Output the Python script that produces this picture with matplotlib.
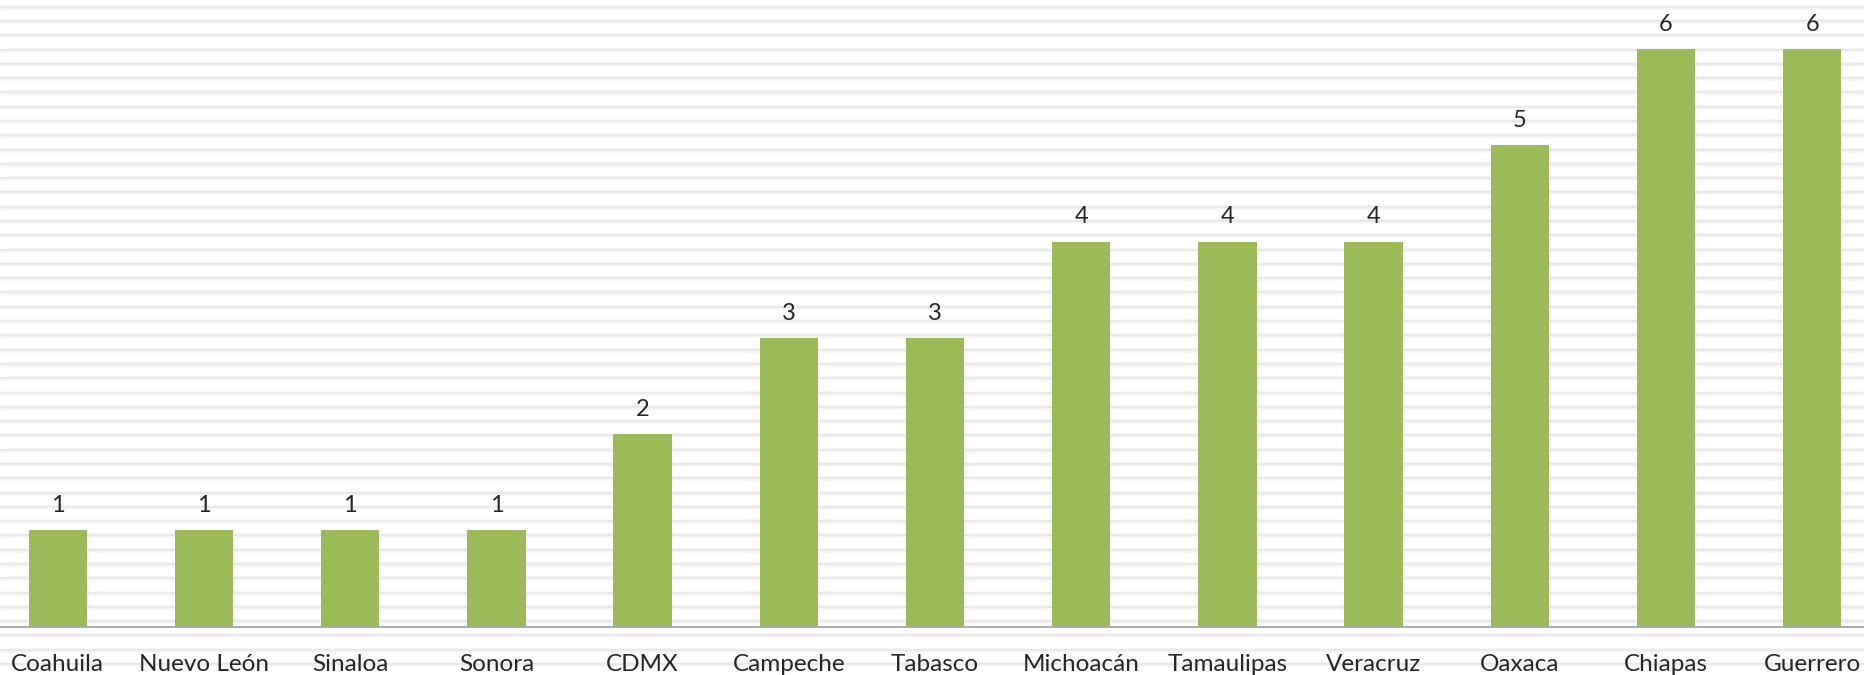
import matplotlib
matplotlib.use("Agg")
import matplotlib.pyplot as plt
from matplotlib.lines import Line2D

categories = ["Coahuila", "Nuevo León", "Sinaloa", "Sonora", "CDMX", "Campeche",
              "Tabasco", "Michoacán", "Tamaulipas", "Veracruz", "Oaxaca", "Chiapas", "Guerrero"]
values = [1, 1, 1, 1, 2, 3, 3, 4, 4, 4, 5, 6, 6]

W, H = 1864, 675
plt.rcParams['font.family'] = ['Lato', 'DejaVu Sans']
fig = plt.figure(figsize=(W / 100, H / 100), dpi=100)
fig.patch.set_facecolor('white')

# striped background (decorative texture)
y0, step = 6.7, 14.29
k = 0
while y0 + step * k < H + 5:
    yy = 1 - (y0 + step * k) / H
    fig.add_artist(Line2D([0, 1], [yy, yy], transform=fig.transFigure,
                          color='#f5f5f5', lw=3.4, zorder=-3, solid_capstyle='butt'))
    fig.add_artist(Line2D([0, 1], [yy, yy], transform=fig.transFigure,
                          color='#e6e6e6', lw=1.1, zorder=-2, solid_capstyle='butt'))
    k += 1

base_px = 626.7
unit_px = 96.3
ax = fig.add_axes([0, (H - base_px) / H, 1, base_px / H])
ax.set_facecolor('none')
x = list(range(len(categories)))
bars = ax.bar(x, values, width=0.40, color='#9BBB59', zorder=2)
x0_px, dx_px = 57.8, 146.2
ax.set_xlim(-x0_px / dx_px, (W - x0_px) / dx_px)
ax.set_ylim(0, base_px / unit_px)

for b, v in zip(bars, values):
    ax.annotate(str(v), (b.get_x() + b.get_width() / 2, v), xytext=(0, 13),
                textcoords='offset points', ha='center', va='baseline',
                fontsize=17, color='#262626')

ax.set_xticks(x)
ax.set_xticklabels(categories, fontsize=17.5, color='#262626')
ax.tick_params(axis='x', length=0, pad=19.5)
ax.set_yticks([])
for s in ['top', 'left', 'right']:
    ax.spines[s].set_visible(False)
ax.spines['bottom'].set_color('#a6a6a6')
ax.spines['bottom'].set_linewidth(1.3)
ax.spines['bottom'].set_zorder(3)

fig.savefig('out.png', dpi=100, facecolor='white')
